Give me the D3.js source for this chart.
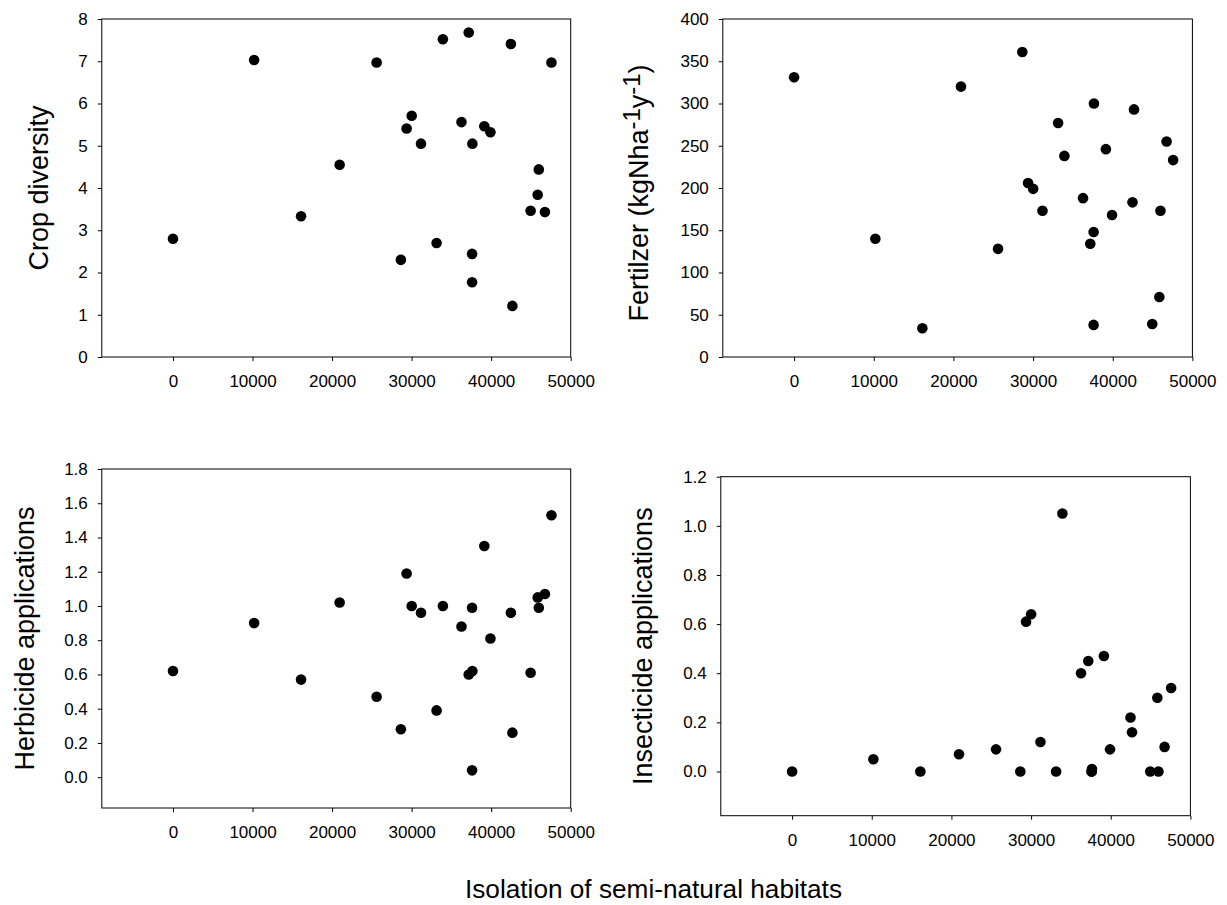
<!DOCTYPE html>
<html lang="en">
<head>
<meta charset="UTF-8" />
<title>Isolation of semi-natural habitats</title>
<script src="https://d3js.org/d3.v7.min.js"></script>
<style>
  body { margin: 0; background: #fff; }
  svg { display: block; font-family: "Liberation Sans", Arial, sans-serif; }
  .tick text { font-size: 17px; fill: #000; }
  .tick line { stroke: #000; }
  .ytitle { font-size: 27px; fill: #000; }
  .xtitle { font-size: 26.2px; fill: #000; }
</style>
</head>
<body>
<svg id="chart" width="1227" height="905"></svg>
<script>
// isolation of semi-natural habitats (same sites in every panel)
var isolation = [0, 10200, 16100, 20950, 25600, 28650, 29370, 30010, 31180, 33140, 33930, 36270, 37180,
                 37640, 37600, 37600, 39140, 39910, 42480, 42670, 44960, 45990, 45850, 46760, 47580];

var cropDiversity = [2.80, 7.03, 3.33, 4.55, 6.97, 2.30, 5.41, 5.71, 5.05, 2.70, 7.52, 5.56, 7.68,
                     5.05, 2.44, 1.77, 5.46, 5.32, 7.41, 1.21, 3.46, 4.44, 3.84, 3.43, 6.97];

var fertilizer = [331, 140, 34, 320, 128, 361, 206, 199, 173, 277, 238, 188, 134,
                  300, 148, 38, 246, 168, 183, 293, 39, 173, 71, 255, 233];

var herbicide = [0.62, 0.90, 0.57, 1.02, 0.47, 0.28, 1.19, 1.00, 0.96, 0.39, 1.00, 0.88, 0.60,
                 0.62, 0.99, 0.04, 1.35, 0.81, 0.96, 0.26, 0.61, 0.99, 1.05, 1.07, 1.53];

var insecticide = [0, 0.05, 0, 0.07, 0.09, 0, 0.61, 0.64, 0.12, 0, 1.05, 0.40, 0.45,
                   0.01, 0, 0, 0.47, 0.09, 0.22, 0.16, 0, 0, 0.30, 0.10, 0.34];

// tick values
var xTicks = [0, 10000, 20000, 30000, 40000, 50000];
var cropTicks = [0, 1, 2, 3, 4, 5, 6, 7, 8];
var fertTicks = [0, 50, 100, 150, 200, 250, 300, 350, 400];
var herbTicks = [0, 0.2, 0.4, 0.6, 0.8, 1.0, 1.2, 1.4, 1.6, 1.8];
var insTicks = [0, 0.2, 0.4, 0.6, 0.8, 1.0, 1.2];

var xTitle = "Isolation of semi-natural habitats";

var svg = d3.select("#chart");

// panel boxes
var panels = [
  { values: cropDiversity, ticks: cropTicks, yDomain: [0, 8], fmt: d3.format("d"),
    left: 101.8, right: 570.7, top: 19, bottom: 357, titleX: 48, titleShift: 0, title: "Crop diversity" },
  { values: fertilizer, ticks: fertTicks, yDomain: [0, 400], fmt: d3.format("d"),
    left: 722.8, right: 1192.4, top: 19, bottom: 357, titleX: 648, titleShift: 5, title: null },
  { values: herbicide, ticks: herbTicks, yDomain: [-0.18, 1.8], fmt: d3.format(".1f"),
    left: 101.8, right: 570.7, top: 469, bottom: 808, titleX: 34, titleShift: 0, title: "Herbicide applications" },
  { values: insecticide, ticks: insTicks, yDomain: [-0.18, 1.2], fmt: d3.format(".1f"),
    left: 720.8, right: 1190.4, top: 476.7, bottom: 815.7, titleX: 652, titleShift: 0, title: "Insecticide applications" }
];

panels.forEach(function(p) {
  var x = d3.scaleLinear().domain([-8950, 50000]).range([p.left, p.right]);
  var y = d3.scaleLinear().domain(p.yDomain).range([p.bottom, p.top]);

  var g = svg.append("g");

  // frame
  g.append("rect")
    .attr("x", p.left).attr("y", p.top)
    .attr("width", p.right - p.left).attr("height", p.bottom - p.top)
    .attr("fill", "none").attr("stroke", "#000").attr("stroke-width", 1);

  var xAxis = g.append("g")
    .attr("transform", "translate(0," + p.bottom + ")")
    .call(d3.axisBottom(x).tickValues(xTicks).tickFormat(d3.format("d"))
      .tickSize(4).tickPadding(14));
  xAxis.select(".domain").remove();

  var yAxis = g.append("g")
    .attr("transform", "translate(" + p.left + ",0)")
    .call(d3.axisLeft(y).tickValues(p.ticks).tickFormat(p.fmt)
      .tickSize(4).tickPadding(10));
  yAxis.select(".domain").remove();

  // points
  g.selectAll("circle")
    .data(p.values)
    .enter()
    .append("circle")
    .attr("cx", function(d, j) { return x(isolation[j]); })
    .attr("cy", function(d) { return y(d); })
    .attr("r", 5.3)
    .attr("fill", "#000");

  // y title
  var cy = (p.top + p.bottom) / 2 + p.titleShift;
  var t = g.append("text")
    .attr("class", "ytitle")
    .attr("text-anchor", "middle")
    .attr("transform", "translate(" + p.titleX + "," + cy + ") rotate(-90)");
  if (p.title) {
    t.text(p.title);
  } else {
    // fertilizer label with superscripts
    t.append("tspan").text("Fertilzer (kgNha");
    t.append("tspan").attr("dy", -8).style("font-size", "24px").text("-1");
    t.append("tspan").attr("dy", 8).text("y");
    t.append("tspan").attr("dy", -8).style("font-size", "24px").text("-1");
    t.append("tspan").attr("dy", 8).text(")");
  }
});

svg.append("text")
  .attr("class", "xtitle")
  .attr("x", 653.5)
  .attr("y", 898)
  .attr("text-anchor", "middle")
  .text(xTitle);
</script>
</body>
</html>
